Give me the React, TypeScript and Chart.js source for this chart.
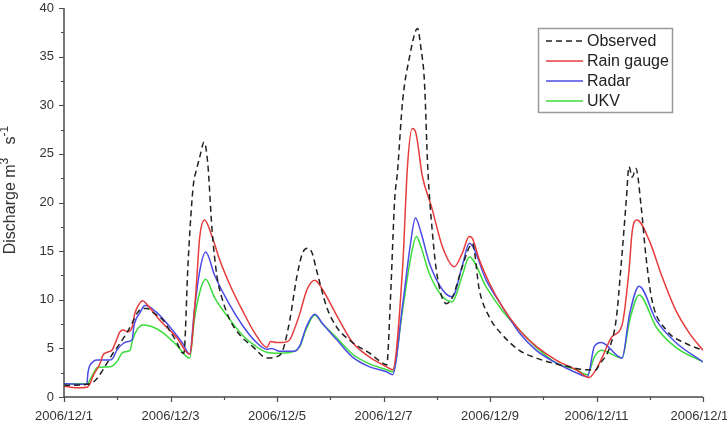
import React, { useEffect, useRef } from "react";
import { Chart, registerables } from "chart.js";

Chart.register(...registerables);

// ---- data (x = days since 2006/12/1, y = discharge m3 s-1) ----
const xTickDays = [0, 2, 4, 6, 8, 10, 12];
const xTickLabels = ["2006/12/1", "2006/12/3", "2006/12/5", "2006/12/7", "2006/12/9", "2006/12/11", "2006/12/13"];
const yTickValues = [0, 5, 10, 15, 20, 25, 30, 35, 40];
const seriesNames = ["Observed", "Rain gauge", "Radar", "UKV"];

const observed: [number, number][] = [
  [0, 1.2], [0.43, 1.3], [0.54, 1.5], [0.62, 1.9], [0.71, 2.6], [0.81, 3.5], [0.92, 4.5], [1.05, 5.5],
  [1.18, 6.6], [1.28, 7.6], [1.37, 8.6], [1.48, 9.1], [1.56, 9.1], [1.67, 8.7], [1.86, 7.9], [1.99, 6.8],
  [2.12, 5.6], [2.21, 4.6], [2.25, 4.5], [2.33, 13.8], [2.4, 20.0], [2.44, 22.3], [2.47, 23.0], [2.55, 24.7],
  [2.63, 26.2], [2.7, 24.0], [2.78, 17.2], [2.87, 12.5], [2.96, 10.3], [3.11, 8.0], [3.3, 6.4], [3.58, 5.0],
  [3.73, 4.2], [3.85, 4.0], [3.96, 4.1], [4.05, 4.3], [4.11, 4.8], [4.24, 7.9], [4.37, 12.3], [4.48, 14.8],
  [4.58, 15.3], [4.66, 14.8], [4.74, 13.1], [4.93, 9.3], [5.12, 7.2], [5.42, 5.6], [5.74, 4.5], [5.98, 3.5],
  [6.06, 3.3], [6.13, 10.0], [6.21, 20.3], [6.26, 23.0], [6.36, 30.5], [6.49, 35.0], [6.6, 37.6], [6.64, 37.9],
  [6.7, 36.0], [6.77, 32.3], [6.83, 23.7], [6.92, 16.8], [7.01, 12.4], [7.18, 9.6], [7.29, 10.2], [7.48, 13.4],
  [7.61, 15.4], [7.67, 15.8], [7.8, 11.0], [7.99, 8.2], [8.23, 6.4], [8.55, 4.8], [8.87, 4.0], [9.17, 3.5],
  [9.49, 3.1], [9.81, 2.8], [9.99, 2.8], [10.05, 3.3], [10.24, 5.0], [10.37, 8.0], [10.46, 13.4], [10.56, 20.3],
  [10.61, 23.7], [10.67, 22.6], [10.74, 23.5], [10.84, 19.5], [10.93, 14.4], [11.04, 10.0], [11.31, 6.9],
  [11.68, 5.5], [12, 4.8],
];

const rainGauge: [number, number][] = [
  [0, 1.1], [0.3, 0.95], [0.43, 1.0], [0.49, 1.4], [0.54, 2.1], [0.68, 3.5], [0.73, 4.3], [0.81, 4.6],
  [0.9, 4.8], [0.96, 5.5], [1.05, 6.7], [1.11, 6.9], [1.2, 6.7], [1.28, 7.2], [1.33, 8.6], [1.43, 9.7],
  [1.48, 9.9], [1.56, 9.5], [1.8, 7.9], [2.12, 6.1], [2.36, 4.4], [2.47, 10.3], [2.55, 16.5], [2.64, 18.2],
  [2.78, 16.5], [2.93, 14.0], [3.11, 11.6], [3.36, 8.8], [3.58, 6.6], [3.81, 5.1], [3.88, 5.7], [3.99, 5.6],
  [4.1, 5.6], [4.24, 5.9], [4.3, 6.6], [4.43, 8.6], [4.56, 11.0], [4.71, 12.0], [4.86, 11.0], [5.12, 8.4],
  [5.42, 5.6], [5.74, 4.1], [6.06, 3.1], [6.17, 2.8], [6.36, 13.4], [6.45, 23.7], [6.54, 27.6], [6.6, 27.3],
  [6.73, 22.7], [6.9, 19.6], [7.11, 15.4], [7.33, 13.4], [7.48, 14.8], [7.61, 16.5], [7.67, 16.3], [7.8, 14.1],
  [7.99, 11.7], [8.23, 9.3], [8.55, 6.9], [8.87, 5.2], [9.24, 3.8], [9.62, 2.8], [9.86, 2.0], [9.99, 2.8],
  [10.11, 4.1], [10.29, 6.2], [10.48, 7.4], [10.61, 13.0], [10.67, 17.0], [10.76, 18.2], [10.99, 16.1],
  [11.23, 12.4], [11.49, 8.9], [11.74, 6.6], [12, 4.8],
];

const radar: [number, number][] = [
  [0, 1.35], [0.43, 1.3], [0.45, 2.5], [0.54, 3.6], [0.62, 3.8], [0.86, 3.8], [0.92, 4.0], [0.99, 4.8],
  [1.11, 5.5], [1.2, 5.7], [1.28, 5.9], [1.31, 7.2], [1.43, 8.7], [1.52, 9.4], [1.6, 9.3], [1.74, 8.7],
  [1.99, 7.2], [2.23, 5.5], [2.36, 4.4], [2.45, 9.0], [2.55, 13.0], [2.66, 14.9], [2.83, 12.5], [3.11, 9.5],
  [3.36, 7.3], [3.58, 5.8], [3.81, 4.9], [3.9, 5.0], [4.05, 4.7], [4.33, 4.7], [4.43, 5.3], [4.55, 7.2],
  [4.71, 8.5], [4.86, 7.5], [5.12, 5.9], [5.42, 4.1], [5.74, 3.1], [6.06, 2.6], [6.17, 2.3], [6.36, 9.5],
  [6.5, 15.5], [6.6, 18.4], [6.7, 17.0], [6.86, 13.8], [7.11, 11.0], [7.29, 10.3], [7.48, 13.5], [7.61, 15.8],
  [7.93, 12.0], [8.23, 9.3], [8.55, 6.6], [8.87, 4.8], [9.24, 3.5], [9.62, 2.5], [9.83, 2.1], [9.96, 5.2],
  [10.09, 5.6], [10.48, 4.0], [10.62, 8.5], [10.8, 11.4], [11.12, 7.9], [11.49, 5.6], [12, 3.6],
];

const ukv: [number, number][] = [
  [0, 1.35], [0.43, 1.35], [0.54, 2.3], [0.62, 3.0], [0.86, 3.1], [0.99, 3.6], [1.11, 4.6], [1.24, 4.8],
  [1.29, 5.9], [1.37, 6.9], [1.48, 7.4], [1.67, 7.2], [1.86, 6.6], [2.12, 5.3], [2.36, 4.0], [2.45, 8.0],
  [2.55, 10.8], [2.66, 12.1], [2.83, 10.2], [3.11, 8.0], [3.36, 6.3], [3.58, 5.3], [3.81, 4.6], [4.05, 4.5],
  [4.33, 4.7], [4.43, 5.2], [4.55, 7.0], [4.71, 8.4], [4.86, 7.5], [5.12, 6.1], [5.42, 4.4], [5.74, 3.4],
  [6.06, 2.8], [6.17, 2.6], [6.36, 9.0], [6.5, 14.0], [6.62, 16.5], [6.7, 15.5], [6.86, 12.7], [7.11, 10.3],
  [7.29, 9.8], [7.48, 12.5], [7.61, 14.4], [7.93, 11.3], [8.23, 8.9], [8.55, 6.9], [8.87, 5.1], [9.24, 3.5],
  [9.62, 2.8], [9.83, 2.3], [9.96, 4.1], [10.09, 4.8], [10.48, 4.0], [10.62, 7.8], [10.8, 10.5], [11.12, 7.2],
  [11.49, 5.1], [12, 3.6],
];

const seriesColors = ["#222222", "#e63c3c", "#4b4be6", "#3cdc3c"];

const FONT = "'Liberation Sans', Arial, sans-serif";

const axesPlugin = {
  id: "customAxes",
  afterDraw(chart: any) {
    const { ctx, chartArea, scales } = chart;
    const xs = scales.x;
    const ys = scales.y;
    const { left, right, top, bottom } = chartArea;
    ctx.save();
    ctx.strokeStyle = "#4a4a4a";
    ctx.lineWidth = 1.5;
    ctx.beginPath();
    ctx.moveTo(left, top);
    ctx.lineTo(left, bottom);
    ctx.lineTo(right, bottom);
    ctx.stroke();

    ctx.lineWidth = 1.2;
    ctx.beginPath();
    for (let v = 0; v <= 40; v += 2.5) {
      const y = Math.round(ys.getPixelForValue(v)) + 0.5;
      const len = v % 5 === 0 ? 5 : 3;
      ctx.moveTo(left - len, y);
      ctx.lineTo(left, y);
    }
    for (let d = 0; d <= 12; d += 1) {
      const x = Math.round(xs.getPixelForValue(d)) + 0.5;
      const len = d % 2 === 0 ? 5 : 3;
      ctx.moveTo(x, bottom);
      ctx.lineTo(x, bottom + len);
    }
    ctx.stroke();

    ctx.fillStyle = "#333";
    ctx.font = `13px ${FONT}`;
    ctx.textAlign = "right";
    ctx.textBaseline = "middle";
    yTickValues.forEach((v) => {
      ctx.fillText(String(v), left - 10, ys.getPixelForValue(v));
    });
    ctx.textAlign = "center";
    xTickDays.forEach((d, i) => {
      ctx.fillText(xTickLabels[i], xs.getPixelForValue(d), bottom + 19);
    });

    // y axis title with superscripts
    const parts: { t: string; size: number; rise: number }[] = [
      { t: "Discharge m", size: 16, rise: 0 },
      { t: "3", size: 12, rise: 7 },
      { t: "   s", size: 16, rise: 0 },
      { t: "-1", size: 12, rise: 7 },
    ];
    let total = 0;
    parts.forEach((p) => {
      ctx.font = `${p.size}px ${FONT}`;
      total += ctx.measureText(p.t).width;
    });
    ctx.save();
    ctx.translate(15, 190);
    ctx.rotate(-Math.PI / 2);
    ctx.textAlign = "left";
    ctx.textBaseline = "alphabetic";
    ctx.fillStyle = "#333";
    let cx = -total / 2;
    parts.forEach((p) => {
      ctx.font = `${p.size}px ${FONT}`;
      ctx.fillText(p.t, cx, -p.rise);
      cx += ctx.measureText(p.t).width;
    });
    ctx.restore();

    // legend
    ctx.strokeStyle = "#9a9a9a";
    ctx.lineWidth = 1.5;
    ctx.strokeRect(538.5, 28.5, 134, 84);
    ctx.font = `16px ${FONT}`;
    ctx.textAlign = "left";
    ctx.textBaseline = "middle";
    chart.data.datasets.forEach((ds: any, i: number) => {
      const y = 41 + i * 20;
      ctx.strokeStyle = ds.borderColor;
      ctx.lineWidth = 1.5;
      ctx.setLineDash(ds.borderDash || []);
      ctx.beginPath();
      ctx.moveTo(546, y);
      ctx.lineTo(583, y);
      ctx.stroke();
      ctx.setLineDash([]);
      ctx.fillStyle = "#222";
      ctx.fillText(ds.label, 587, y + 1);
    });
    ctx.restore();
  },
};

export default function App() {
  const canvasRef = useRef<HTMLCanvasElement | null>(null);

  useEffect(() => {
    document.body.style.margin = "0";
    const canvas = canvasRef.current;
    if (!canvas) return;
    const all = [observed, rainGauge, radar, ukv];
    const chart = new Chart(canvas, {
      type: "line",
      data: {
        datasets: all.map((s, i) => ({
          label: seriesNames[i],
          data: s.map(([x, y]) => ({ x, y })),
          borderColor: seriesColors[i],
          backgroundColor: seriesColors[i],
          borderWidth: 1.5,
          borderDash: i === 0 ? [6, 4] : [],
          pointRadius: 0,
          fill: false,
          cubicInterpolationMode: "monotone" as const,
        })),
      },
      options: {
        animation: false,
        responsive: false,
        devicePixelRatio: 1,
        layout: { padding: { left: 64, right: 24, top: 8, bottom: 29 } },
        scales: {
          x: { type: "linear", min: 0, max: 12, display: false },
          y: { type: "linear", min: 0, max: 40, display: false },
        },
        plugins: {
          legend: { display: false },
          tooltip: { enabled: false },
        },
      },
      plugins: [axesPlugin],
    });
    return () => chart.destroy();
  }, []);

  return (
    <div style={{ width: 727, height: 426, background: "#fff" }}>
      <canvas ref={canvasRef} width={727} height={426} style={{ display: "block" }} />
    </div>
  );
}
